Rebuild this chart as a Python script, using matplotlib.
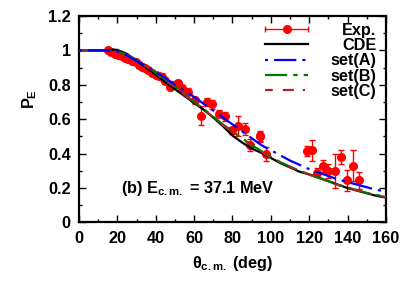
import numpy as np
import matplotlib
matplotlib.use("Agg")
import matplotlib.pyplot as plt
from matplotlib.lines import Line2D
from matplotlib.legend_handler import HandlerBase

plt.rcParams['font.family'] = ['Liberation Sans', 'DejaVu Sans']
plt.rcParams['font.weight'] = 'bold'
plt.rcParams['axes.labelweight'] = 'bold'
plt.rcParams['mathtext.fontset'] = 'custom'
plt.rcParams['mathtext.rm'] = 'Liberation Sans:bold'
plt.rcParams['mathtext.it'] = 'Liberation Sans:bold'
plt.rcParams['mathtext.bf'] = 'Liberation Sans:bold'

# experimental data
exp_theta = [15.1, 16.5, 18.6, 20.5, 22.5, 24.0, 25.6, 27.5, 29.5, 31.5, 33.0, 34.3, 36.0,
             38.0, 40.0, 41.5, 43.0, 45.0, 47.3, 49.0, 51.6, 53.5, 56.9, 60.4, 63.8,
             66.5, 69.1, 73.0, 76.0, 79.5, 82.9, 86.4, 89.0, 94.3, 94.6, 97.4,
             118.6, 121.2, 123.8, 127.3, 129.9, 133.4, 136.4, 139.5, 142.6, 145.9]
exp_p = [1.00, 0.99, 0.98, 0.975, 0.965, 0.955, 0.95, 0.94, 0.93, 0.915, 0.905, 0.895, 0.885,
         0.87, 0.86, 0.85, 0.846, 0.825, 0.79, 0.80, 0.81, 0.78, 0.76, 0.71, 0.62,
         0.70, 0.687, 0.633, 0.617, 0.536, 0.56, 0.545, 0.45, 0.50, 0.50, 0.40,
         0.415, 0.42, 0.29, 0.33, 0.30, 0.30, 0.38, 0.245, 0.33, 0.245]
exp_err = [0.01, 0.01, 0.015, 0.015, 0.015, 0.015, 0.015, 0.015, 0.015, 0.015, 0.015, 0.015, 0.015,
           0.015, 0.015, 0.015, 0.02, 0.02, 0.02, 0.02, 0.02, 0.02, 0.02, 0.02, 0.055,
           0.025, 0.025, 0.02, 0.025, 0.02, 0.06, 0.035, 0.035, 0.03, 0.025, 0.04,
           0.03, 0.06, 0.025, 0.035, 0.04, 0.10, 0.04, 0.06, 0.09, 0.05]

# theory curves
theta = [0, 5, 10, 15, 18, 20, 25, 30, 35, 40, 45, 50, 55, 60, 65, 70, 75, 80, 85, 90, 95,
         100, 105, 110, 115, 120, 125, 130, 135, 140, 145, 150, 155, 160]
cde = [1, 1, 1, 1.0, 1.005, 1.003, 0.98, 0.94, 0.90, 0.86, 0.815, 0.775, 0.735, 0.695, 0.655,
       0.61, 0.56, 0.505, 0.465, 0.43, 0.405, 0.375, 0.345, 0.32, 0.295, 0.28, 0.26, 0.24,
       0.22, 0.20, 0.185, 0.17, 0.155, 0.145]
set_a = [1, 1, 1, 1.0, 0.998, 0.995, 0.97, 0.94, 0.91, 0.875, 0.84, 0.80, 0.765, 0.73, 0.69,
         0.65, 0.61, 0.57, 0.53, 0.49, 0.45, 0.42, 0.39, 0.36, 0.335, 0.31, 0.29, 0.27,
         0.25, 0.235, 0.22, 0.205, 0.19, 0.18]
set_b = [1, 1, 1, 1.0, 0.998, 0.995, 0.975, 0.945, 0.91, 0.87, 0.83, 0.79, 0.745, 0.70, 0.66,
         0.615, 0.57, 0.53, 0.49, 0.45, 0.415, 0.38, 0.35, 0.325, 0.30, 0.28, 0.26, 0.24,
         0.22, 0.203, 0.188, 0.172, 0.16, 0.15]
set_c = [1, 1, 1, 1.0, 0.998, 0.994, 0.973, 0.943, 0.907, 0.867, 0.826, 0.786, 0.742, 0.697, 0.656,
         0.612, 0.567, 0.527, 0.487, 0.447, 0.412, 0.378, 0.348, 0.323, 0.298, 0.278, 0.258, 0.238,
         0.218, 0.201, 0.186, 0.170, 0.158, 0.148]

FS = 11.7

fig = plt.figure(figsize=(4.15, 2.91), dpi=100)
ax = fig.add_axes([0.1904, 0.2354, 0.7396, 0.7096])

ax.errorbar(exp_theta, exp_p, yerr=exp_err, fmt='o', color='#ff0000', ms=5.5, elinewidth=1,
            capsize=2, capthick=1, zorder=2)
ax.plot(theta, cde, color='black', lw=1.6, zorder=3)
lb, = ax.plot(theta, set_b, color='#007700', lw=1.6, zorder=4)
lb.set_dashes([10, 2.7, 2, 2.7])
lc, = ax.plot(theta, set_c, color='#a52a2a', lw=1.6, zorder=5)
lc.set_dashes([3.5, 4.5, 5, 4, 1, 4])
la, = ax.plot(theta, set_a, color='#0000ff', lw=1.6, zorder=6)
la.set_dashes([1.4, 2.7, 10, 2.7])

ax.set_xlim(0, 160)
ax.set_ylim(0, 1.2)
ax.set_xticks(np.arange(0, 161, 20))
ax.set_xticks(np.arange(0, 161, 10), minor=True)
ax.set_yticks(np.arange(0, 1.21, 0.2))
ax.set_yticks(np.arange(0, 1.21, 0.1), minor=True)
ax.set_yticklabels(['0', '0.2', '0.4', '0.6', '0.8', '1', '1.2'])
ax.tick_params(which='both', direction='in', top=True, right=True, labelsize=FS)
ax.tick_params(which='major', length=5, width=1, pad=6)
ax.tick_params(which='minor', length=2.5, width=1)
for lbl in ax.get_xticklabels() + ax.get_yticklabels():
    lbl.set_fontweight('bold')
for s in ax.spines.values():
    s.set_linewidth(1.6)

ax.set_xlabel(r'$\theta_{c.m.}$ (deg)', fontsize=FS, labelpad=6)
ax.set_ylabel(r'P$_\mathrm{E}$', fontsize=FS)
ax.yaxis.set_label_coords(-0.13, 0.6)

ax.text(22, 0.2, r'(b) E$_{c.m.}$ = 37.1 MeV', fontsize=FS, va='center')


class ExpHandler(HandlerBase):
    def create_artists(self, legend, orig_handle, xdescent, ydescent, width, height,
                       fontsize, trans):
        y = height / 2 - ydescent
        x0 = -xdescent
        x1 = -xdescent + width
        line = Line2D([x0, x1], [y, y], color='#ff0000', lw=1)
        caps = Line2D([x0, x1], [y, y], ls='none', marker='|', ms=5, mew=1, color='#ff0000')
        dot = Line2D([(x0 + x1) / 2], [y], ls='none', marker='o', ms=5.5, color='#ff0000')
        for a in (line, caps, dot):
            a.set_transform(trans)
        return [line, caps, dot]


exp_handle = Line2D([], [], color='#ff0000')
leg = ax.legend([exp_handle, Line2D([], [], color='black', lw=1.6), la, lb, lc],
                ['Exp.', 'CDE', 'set(A)', 'set(B)', 'set(C)'],
                handler_map={exp_handle: ExpHandler()},
                loc='upper left', bbox_to_anchor=(0.606, 0.967), frameon=False,
                fontsize=FS, handlelength=2.65, handletextpad=1.4, labelspacing=0.02,
                borderpad=0.0, borderaxespad=0.0)

fig.canvas.draw()
renderer = fig.canvas.get_renderer()
texts = leg.get_texts()
widths = [t.get_window_extent(renderer).width for t in texts]
wmax = max(widths)
for t, w in zip(texts, widths):
    t.set_position((wmax - w, 0))

fig.savefig('out.png', dpi=100)
